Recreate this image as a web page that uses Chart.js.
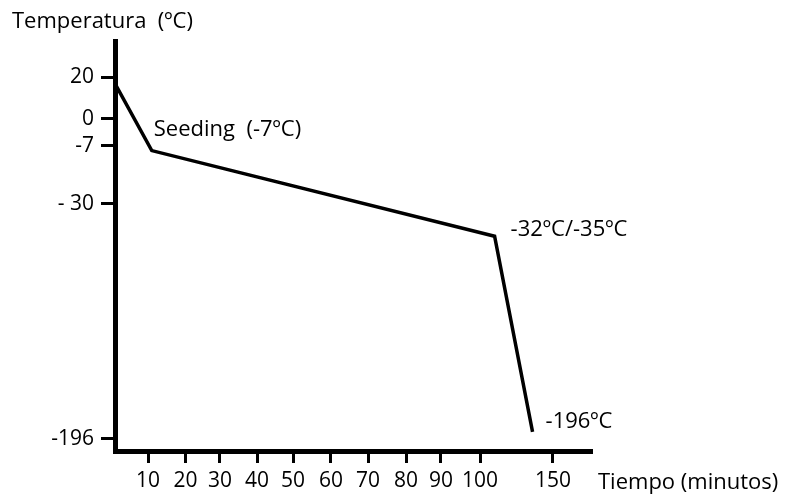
<!DOCTYPE html>
<html>
<head>
<meta charset="utf-8">
<script src="https://cdn.jsdelivr.net/npm/chart.js@4.4.0/dist/chart.umd.min.js"></script>
<style>
  body { margin: 0; background: #fff; }
</style>
</head>
<body>
<canvas id="canvas" width="785" height="495"></canvas>
<script>
// data
const timeMinutes = [0, 11, 110, 136];
const temperature = [17, -9, -53, -191];
const pointNotes = ['', 'Seeding  (-7ºC)', '-32ºC/-35ºC', '-196ºC'];

const xTicks = [10, 20, 30, 40, 50, 60, 70, 80, 90, 100, 150];
const xTickLabels = ['10', '20', '30', '40', '50', '60', '70', '80', '90', '100', '150'];
const yTicks = [20, 0, -7, -30, -196];
const yTickLabels = ['20', '0', '-7', '- 30', '-196'];

const FONT = "'Open Sans', sans-serif";

// the drawing is not to scale, so the axes are piecewise linear between ticks
const LinearScale = Chart.registry.getScale('linear');
class PiecewiseScale extends LinearScale {
	knots() {
		const o = this.options;
		const k = [[o.min, 0], [o.max, 1]];
		o.tickValues.forEach((v, i) => k.push([v, o.tickPositions[i]]));
		return k.sort((a, b) => a[0] - b[0]);
	}
	buildTicks() {
		return this.options.tickValues.map((v) => ({value: v}));
	}
	getPixelForValue(value) {
		if (value === null || isNaN(value)) return NaN;
		const k = this.knots();
		let i = 0;
		while (i < k.length - 2 && value > k[i + 1][0]) i++;
		const a = k[i], b = k[i + 1];
		const d = a[1] + (value - a[0]) / (b[0] - a[0]) * (b[1] - a[1]);
		return this.getPixelForDecimal(d);
	}
	getValueForPixel(pixel) {
		const d = this.getDecimalForPixel(pixel);
		const k = this.knots();
		let i = 0;
		while (i < k.length - 2 && d > k[i + 1][1]) i++;
		const a = k[i], b = k[i + 1];
		return a[0] + (d - a[1]) / (b[1] - a[1]) * (b[0] - a[0]);
	}
}
PiecewiseScale.id = 'piecewise';
PiecewiseScale.defaults = {};
Chart.register(PiecewiseScale);

const notesPlugin = {
	id: 'notes',
	afterDatasetsDraw(chart) {
		const ctx = chart.ctx;
		const pts = chart.getDatasetMeta(0).data;
		const offsets = [[0, 0], [2, -21], [16, -7], [13, -10]];
		ctx.save();
		ctx.font = '22px ' + FONT;
		ctx.fillStyle = '#000';
		ctx.textAlign = 'left';
		ctx.textBaseline = 'middle';
		pointNotes.forEach((t, i) => {
			if (!t) return;
			ctx.fillText(t, pts[i].x + offsets[i][0], pts[i].y + offsets[i][1]);
		});
		// x axis name sits to the right of the axis, on the tick label row
		const x = chart.scales.x;
		ctx.fillText('Tiempo (minutos)', x.right + 6, x.top + 32);
		ctx.restore();
	}
};

const ctx = document.getElementById('canvas');
new Chart(ctx, {
	type: 'line',
	data: {
		datasets: [{
			data: timeMinutes.map((t, i) => ({x: t, y: temperature[i]})),
			borderColor: '#000',
			borderWidth: 3.5,
			pointRadius: 0,
			tension: 0
		}]
	},
	options: {
		responsive: false,
		animation: false,
		layout: {padding: {left: 12, right: 193, top: 0, bottom: 0}},
		plugins: {
			legend: {display: false},
			tooltip: {enabled: false},
			title: {
				display: true,
				text: 'Temperatura  (ºC)',
				align: 'start',
				color: '#000',
				font: {family: FONT, size: 22, weight: 'normal'},
				padding: {top: 9, bottom: 6}
			}
		},
		scales: {
			x: {
				type: 'piecewise',
				min: 0,
				max: 177,
				tickValues: xTicks,
				tickPositions: [0.0692, 0.1478, 0.2201, 0.2977, 0.3732, 0.4528, 0.5304, 0.6101, 0.6834, 0.7652, 0.9182],
				afterFit: (s) => { s.height = 44; },
				border: {display: true, width: 5, color: '#000'},
				grid: {display: true, drawOnChartArea: false, drawTicks: true, tickLength: 12, tickWidth: 3, tickColor: '#000'},
				ticks: {
					autoSkip: false,
					maxRotation: 0,
					padding: 5,
					color: '#000',
					font: {family: FONT, size: 21},
					callback: (v, i) => xTickLabels[i]
				}
			},
			y: {
				type: 'piecewise',
				min: -205,
				max: 36,
				tickValues: yTicks,
				tickPositions: [0.9120, 0.8117, 0.7457, 0.6039, 0.0293],
				afterFit: (s) => { s.width = 103; },
				border: {display: true, width: 5, color: '#000'},
				grid: {display: true, drawOnChartArea: false, drawTicks: true, tickLength: 14, tickWidth: 3, tickColor: '#000'},
				ticks: {
					autoSkip: false,
					padding: 7,
					color: '#000',
					font: {family: FONT, size: 21},
					callback: (v, i) => yTickLabels[i]
				}
			}
		}
	},
	plugins: [notesPlugin]
});
</script>
</body>
</html>
